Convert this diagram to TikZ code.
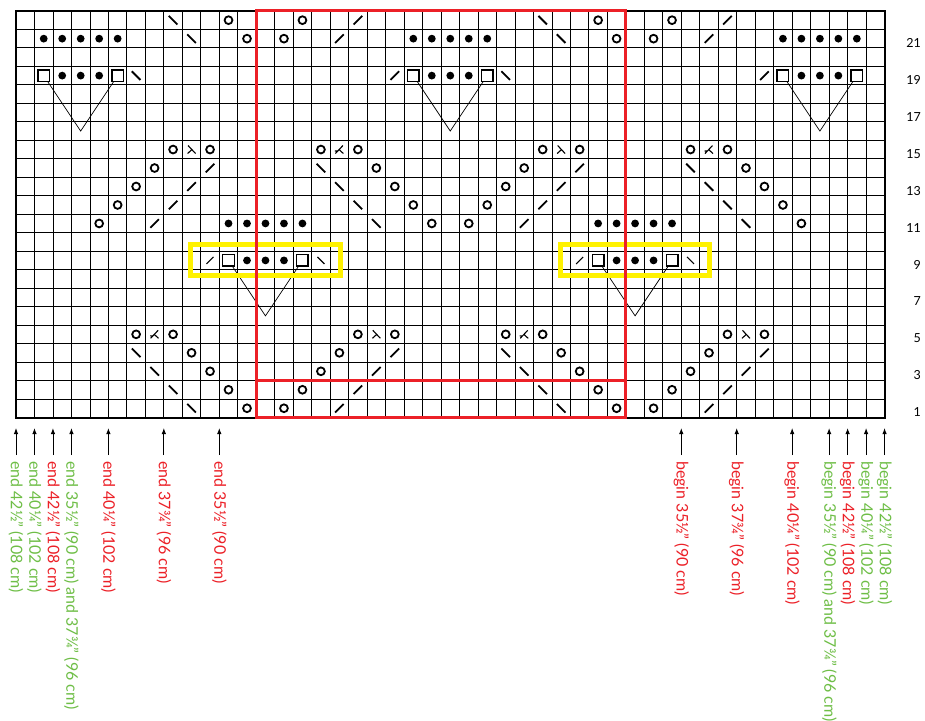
\documentclass[tikz,border=0pt]{standalone}
\usepackage{fontspec}
\setmainfont{Lato}
\usetikzlibrary{arrows.meta}
\definecolor{cred}{RGB}{236,32,39}
\definecolor{cgreen}{RGB}{110,190,70}
\definecolor{cyel}{RGB}{255,242,0}
\tikzset{
  gridline/.style={line width=0.8pt, black},
  border/.style={line width=2pt, black},
  pics/kO/.style={code={\draw[line width=1.8pt] (0,0) circle[radius=3.9pt];}},
  pics/kDot/.style={code={\fill (0,0) circle[radius=3.9pt];}},
  pics/kRise/.style={code={\draw[line width=1.8pt] (-4.3pt,-4.3pt) -- (4.3pt,4.3pt);}},
  pics/kFall/.style={code={\draw[line width=1.8pt] (-4.3pt,4.3pt) -- (4.3pt,-4.3pt);}},
  pics/kRiseS/.style={code={\draw[line width=1.1pt] (-3.5pt,-3.5pt) -- (3.5pt,3.5pt);}},
  pics/kFallS/.style={code={\draw[line width=1.1pt] (-3.5pt,3.5pt) -- (3.5pt,-3.5pt);}},
  pics/kLam/.style={code={\draw[line width=1.1pt] (-3.5pt,4pt) -- (4pt,-4pt) (0.2pt,-0.2pt) -- (-4pt,-4pt);}},
  pics/kKam/.style={code={\draw[line width=1.1pt] (3.5pt,4pt) -- (-4pt,-4pt) (-0.2pt,-0.2pt) -- (4pt,-4pt) (-4.5pt,-1.5pt) -- (-1.5pt,-1.5pt);}},
  sqnode/.style={draw, line width=1.4pt, fill=white, minimum size=11.5pt, inner sep=0pt},
  vline/.style={line width=0.7pt, black},
  redbox/.style={draw=cred, line width=3pt},
  yelbox/.style={draw=cyel, line width=5pt},
  rowlbl/.style={anchor=east, inner sep=0pt, font=\fontsize{12.5}{14}\selectfont},
  arr/.style={line width=0.9pt, -{Latex[length=6pt,width=4.5pt]}},
  lbl/.style={rotate=-90, anchor=west, inner sep=0pt, font=\fontsize{16}{18}\selectfont}
}
\begin{document}
\begin{tikzpicture}[x=18.48pt,y=18.48pt]
\useasboundingbox (-16pt,-302.5pt) rectangle (909pt,417.5pt);
\fill[white] (-16pt,-302.5pt) rectangle (909pt,417.5pt);
% grid
\draw[gridline, step=1] (0,0) grid (47,22);
\draw[border] (0,0) rectangle (47,22);
% open circles
\foreach \c/\r in {11/22,15/22,31/22,35/22, 12/21,14/21,32/21,34/21,
  8/15,10/15,16/15,18/15,28/15,30/15,36/15,38/15, 7/14,19/14,27/14,39/14,
  6/13,20/13,26/13,40/13, 5/12,21/12,25/12,41/12, 4/11,22/11,24/11,42/11,
  6/5,8/5,18/5,20/5,26/5,28/5,38/5,40/5, 9/4,17/4,29/4,37/4,
  10/3,16/3,30/3,36/3, 11/2,15/2,31/2,35/2, 12/1,14/1,32/1,34/1}
  \pic at (\c+0.5,\r-0.5) {kO};
% rising slashes
\foreach \c/\r in {18/22,38/22,17/21,37/21,20/19,40/19,10/14,30/14,9/13,29/13,
  8/12,28/12,7/11,27/11,20/4,40/4,19/3,39/3,18/2,38/2,17/1,37/1}
  \pic at (\c+0.5,\r-0.5) {kRise};
% falling slashes
\foreach \c/\r in {8/22,28/22,9/21,29/21,6/19,26/19,16/14,36/14,17/13,37/13,
  18/12,38/12,19/11,39/11,6/4,26/4,7/3,27/3,8/2,28/2,9/1,29/1}
  \pic at (\c+0.5,\r-0.5) {kFall};
\foreach \c/\r in {10/9,30/9} \pic at (\c+0.5,\r-0.5) {kRiseS};
\foreach \c/\r in {16/9,36/9} \pic at (\c+0.5,\r-0.5) {kFallS};
% dots
\foreach \c/\r in {1/21,2/21,3/21,4/21,5/21,21/21,22/21,23/21,24/21,25/21,
  41/21,42/21,43/21,44/21,45/21, 2/19,3/19,4/19,22/19,23/19,24/19,42/19,43/19,44/19,
  11/11,12/11,13/11,14/11,15/11,31/11,32/11,33/11,34/11,35/11,
  12/9,13/9,14/9,32/9,33/9,34/9}
  \pic at (\c+0.5,\r-0.5) {kDot};
% double decreases
\foreach \c/\r in {9/15,29/15,19/5,39/5} \pic at (\c+0.5,\r-0.5) {kLam};
\foreach \c/\r in {17/15,37/15,7/5,27/5} \pic at (\c+0.5,\r-0.5) {kKam};
% squares and V lines
\coordinate (apexA) at (3.5,15.5);
\coordinate (apexB) at (23.5,15.5);
\coordinate (apexC) at (43.5,15.5);
\coordinate (apexD) at (13.5,5.5);
\coordinate (apexE) at (33.5,5.5);
\draw[vline] (1.5,18.5) -- (apexA) -- (5.5,18.5);
\draw[vline] (21.5,18.5) -- (apexB) -- (25.5,18.5);
\draw[vline] (41.5,18.5) -- (apexC) -- (45.5,18.5);
\draw[vline] (11.5,8.5) -- (apexD) -- (15.5,8.5);
\draw[vline] (31.5,8.5) -- (apexE) -- (35.5,8.5);
\node[sqnode] (sqA1) at (1.5,18.5) {};
\node[sqnode] (sqA2) at (5.5,18.5) {};
\node[sqnode] (sqB1) at (21.5,18.5) {};
\node[sqnode] (sqB2) at (25.5,18.5) {};
\node[sqnode] (sqC1) at (41.5,18.5) {};
\node[sqnode] (sqC2) at (45.5,18.5) {};
\node[sqnode] (sqD1) at (11.5,8.5) {};
\node[sqnode] (sqD2) at (15.5,8.5) {};
\node[sqnode] (sqE1) at (31.5,8.5) {};
\node[sqnode] (sqE2) at (35.5,8.5) {};
% yellow boxes
\draw[yelbox] (9.45,7.67) rectangle (17.55,9.35);
\draw[yelbox] (29.45,7.67) rectangle (37.55,9.35);
% red box
\draw[redbox] (13,0) rectangle (33,22);
\draw[redbox] (13,2) -- (33,2);
% row labels
\foreach \r in {1,3,...,21}
  \node[rowlbl] (rl\r) at (48.97,\r-0.72) {\r};
% arrows and labels
\foreach \k/\clr/\txt [count=\i] in {
  0/cgreen/{end 42½" (108 cm)},
  1/cgreen/{end 40¼" (102 cm)},
  2/cred/{end 42½" (108 cm)},
  3/cgreen/{end 35½" (90 cm) and 37¾" (96 cm)},
  5/cred/{end 40¼" (102 cm)},
  8/cred/{end 37¾" (96 cm)},
  11/cred/{end 35½" (90 cm)},
  36/cred/{begin 35½" (90 cm)},
  39/cred/{begin 37¾" (96 cm)},
  42/cred/{begin 40¼" (102 cm)},
  44/cgreen/{begin 35½" (90 cm) and 37¾" (96 cm)},
  45/cred/{begin 42½" (108 cm)},
  46/cgreen/{begin 40¼" (102 cm)},
  47/cgreen/{begin 42½" (108 cm)}} {
  \coordinate (as\i) at (\k,-2.03);
  \coordinate (ae\i) at (\k,-0.57);
  \draw[arr] (as\i) -- (ae\i);
  \node[lbl, text=\clr] (lb\i) at (\k,-2.35) {\txt};
}
\end{tikzpicture}
\end{document}
